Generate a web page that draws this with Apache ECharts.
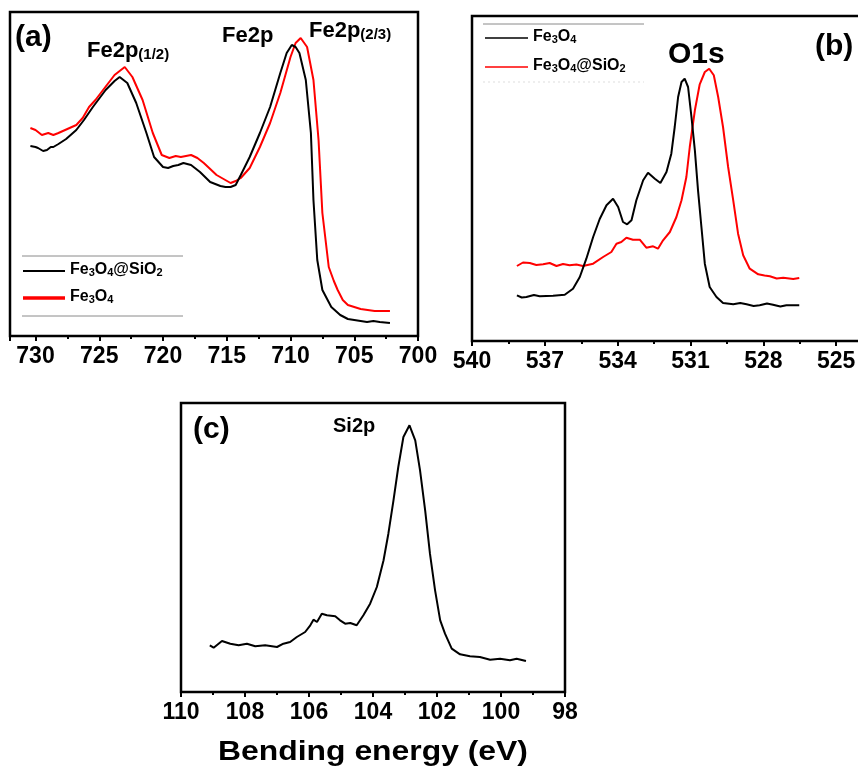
<!DOCTYPE html>
<html>
<head>
<meta charset="utf-8">
<script src="https://cdn.jsdelivr.net/npm/echarts@6/dist/echarts.min.js"></script>
<style>
html,body{margin:0;padding:0;background:#fff;}
#chart{width:858px;height:770px;}
</style>
</head>
<body>
<div id="chart"></div>
<script>
// ---------- DATA ----------
// Panel (a) Fe2p : Fe3O4@SiO2 (black)
const feSiO2_a_energy = [730.4, 730.0, 729.8, 729.4, 729.1, 728.8, 728.6, 728.2, 727.6, 726.8, 726.2, 725.5, 724.5, 723.8, 723.4, 722.8, 722.1, 721.3, 720.7, 720.0, 719.6, 719.2, 718.8, 718.4, 717.8, 717.1, 716.3, 715.5, 715.1, 714.7, 714.3, 713.9, 713.2, 712.4, 711.6, 710.8, 710.3, 709.9, 709.6, 709.3, 708.8, 708.4, 708.2, 707.9, 707.5, 706.8, 706.1, 705.5, 705.0, 704.5, 704.0, 703.5, 703.0, 702.2];
const feSiO2_a_intensity = [190, 189, 188, 185, 186, 189, 189, 192, 197, 206, 216, 229, 246, 255, 259, 253, 233, 203, 179, 169, 168, 170, 171, 173, 171, 164, 154, 150, 149, 149, 151, 161, 179, 203, 229, 263, 283, 291, 289, 283, 256, 203, 136, 76, 46, 29, 21, 17, 16, 15, 14, 15, 14, 13];
// Panel (a) Fe2p : Fe3O4 (red)
const fe_a_energy = [730.4, 730.0, 729.5, 729.0, 728.6, 728.2, 727.5, 726.8, 726.3, 725.8, 725.3, 724.7, 723.8, 723.3, 723.0, 722.7, 722.4, 721.6, 720.8, 720.1, 719.5, 719.0, 718.6, 718.2, 717.8, 717.3, 716.8, 715.8, 714.7, 714.3, 713.9, 713.2, 712.4, 711.6, 710.8, 710.0, 709.6, 709.2, 708.7, 708.2, 707.8, 707.5, 707.0, 706.6, 706.3, 705.9, 705.5, 704.5, 703.4, 702.2];
const fe_a_intensity = [208, 206, 201, 203, 201, 203, 207, 211, 218, 229, 236, 246, 261, 266, 269, 264, 259, 236, 203, 181, 178, 180, 179, 180, 181, 178, 173, 161, 153, 155, 158, 168, 189, 213, 243, 279, 293, 298, 289, 256, 196, 123, 69, 55, 46, 36, 31, 27, 25, 25];

// Panel (b) O1s : Fe3O4 (black)
const fe_b_energy = [538.15, 537.95, 537.76, 537.45, 537.21, 536.66, 536.18, 535.84, 535.56, 535.29, 535.01, 534.74, 534.46, 534.19, 533.98, 533.78, 533.61, 533.43, 533.23, 532.95, 532.75, 532.47, 532.24, 531.99, 531.79, 531.65, 531.51, 531.37, 531.24, 531.10, 530.96, 530.82, 530.69, 530.55, 530.41, 530.21, 529.93, 529.66, 529.24, 528.95, 528.69, 528.4, 528.15, 527.85, 527.60, 527.3, 527.05, 526.52];
const fe_b_intensity = [45.7, 43.5, 44, 46, 44.7, 45.3, 46.3, 52.3, 64, 82.3, 104, 122, 135.7, 142.3, 134, 119, 116.7, 120.7, 140.7, 160.7, 168.3, 162.3, 158, 169, 187.3, 214, 244, 259, 262.3, 254, 224, 190.7, 150.7, 114, 77.3, 54, 44, 38, 36.7, 38, 36.7, 35, 35.7, 37.5, 36.3, 34.5, 35.7, 35.7];
// Panel (b) O1s : Fe3O4@SiO2 (red)
const feSiO2_b_energy = [538.15, 537.9, 537.62, 537.35, 537.07, 536.8, 536.52, 536.25, 535.98, 535.7, 535.43, 535.01, 534.60, 534.26, 534.05, 533.85, 533.64, 533.37, 533.09, 532.82, 532.54, 532.34, 532.13, 531.85, 531.58, 531.37, 531.17, 531.03, 530.82, 530.62, 530.41, 530.23, 530.04, 529.86, 529.66, 529.45, 529.24, 529.04, 528.83, 528.56, 528.21, 527.95, 527.73, 527.45, 527.18, 526.77, 526.52];
const feSiO2_b_intensity = [75, 78.5, 78, 76, 76.7, 78, 75, 77, 75.7, 76.5, 75, 77.3, 84, 89, 97.3, 99, 103.3, 101.3, 101.3, 93.3, 94.7, 92.3, 100.7, 109, 124, 140.7, 164, 194, 230.7, 256.7, 269, 272.3, 265.7, 244, 214, 174, 140.7, 107.3, 85.7, 72.3, 66.7, 65.5, 64.7, 62.5, 63.3, 62, 63];

// Panel (c) Si2p
const si_c_energy = [109.1, 108.98, 108.72, 108.46, 108.20, 107.94, 107.68, 107.37, 107.0, 106.80, 106.59, 106.38, 106.12, 105.96, 105.86, 105.75, 105.60, 105.44, 105.18, 105.03, 104.87, 104.71, 104.51, 104.30, 104.09, 103.88, 103.67, 103.52, 103.36, 103.21, 103.05, 102.86, 102.68, 102.53, 102.37, 102.22, 102.06, 101.90, 101.75, 101.54, 101.28, 100.97, 100.66, 100.34, 100.03, 99.72, 99.51, 99.22];
const si_c_intensity = [46.7, 44.3, 51, 48.3, 46.7, 48.3, 45.7, 46.7, 45, 48.3, 50, 55, 60, 66.7, 72.3, 70, 78.3, 76.7, 75.7, 71.7, 68.3, 69, 66.7, 76.7, 88.3, 105, 131.7, 158.3, 191.7, 225, 255, 266.7, 251.7, 221.7, 181.7, 138.3, 101.7, 71.7, 58.3, 43.3, 37.7, 35.7, 35, 32.3, 33.3, 31.7, 33.3, 31];

// tick settings
const ticksA = {min: 700, max: 732, interval: 5};
const ticksB = {min: 522, max: 540, interval: 3};
const ticksC = {min: 98, max: 110, interval: 2};

const zip = (xs, ys) => xs.map((x, i) => [x, ys[i]]);

// ---------- STYLE ----------
const FONT = '"Liberation Sans", Arial, sans-serif';

function xAxisFor(gridIndex, t, hideFn) {
  return {
    type: 'value', gridIndex, inverse: true,
    min: t.min, max: t.max, interval: t.interval,
    axisLine: {show: false},
    splitLine: {show: false},
    axisTick: {show: true, inside: false, length: 5, lineStyle: {color: '#000', width: 2}},
    minorTick: {show: true, splitNumber: 2, length: 3, lineStyle: {color: '#000', width: 2}},
    axisLabel: {
      show: true, margin: 9, color: '#000', fontSize: 23, fontWeight: 'bold', fontFamily: FONT,
      formatter: v => (hideFn && hideFn(v)) ? '' : String(v)
    }
  };
}
function yAxisFor(gridIndex, max) {
  return {
    type: 'value', gridIndex, min: 0, max,
    axisLine: {show: false}, axisTick: {show: false}, axisLabel: {show: false}, splitLine: {show: false}
  };
}
const gridBase = {show: true, borderColor: '#000', borderWidth: 2.5, backgroundColor: 'transparent', containLabel: false, outerBoundsMode: 'none'};

const richSub = (size, subSize) => ({
  m: {fontSize: size, fontWeight: 'bold', fontFamily: FONT, fill: '#000', lineHeight: size + 4, verticalAlign: 'top'},
  s: {fontSize: subSize, fontWeight: 'bold', fontFamily: FONT, fill: '#000', lineHeight: size + 4, verticalAlign: 'top', padding: [Math.round(size * 0.3), 0, 0, 0]}
});

function txt(x, y, text, size, extra) {
  return Object.assign({
    type: 'text', x, y, silent: true,
    style: {text, font: 'bold ' + size + 'px ' + FONT, fill: '#000', textAlign: 'left', textVerticalAlign: 'middle'}
  }, extra || {});
}
function richTxt(x, y, text, size, subSize) {
  return {
    type: 'text', x, y, silent: true,
    style: {text, font: 'bold ' + size + 'px ' + FONT, fill: '#000', textAlign: 'left', textVerticalAlign: 'top', rich: richSub(size, subSize)}
  };
}
function hline(x1, x2, y, color, width, dash) {
  return {type: 'line', silent: true, shape: {x1, y1: y, x2, y2: y}, style: {stroke: color, lineWidth: width, lineDash: dash || null}};
}

const option = {
  backgroundColor: '#fff',
  animation: false,
  grid: [
    Object.assign({left: 10, top: 12, width: 408, height: 324}, gridBase),
    Object.assign({left: 472, top: 16, width: 437, height: 325}, gridBase),
    Object.assign({left: 181, top: 403, width: 384, height: 289}, gridBase)
  ],
  xAxis: [
    xAxisFor(0, ticksA, v => v % 5 !== 0),
    xAxisFor(1, ticksB, v => v % 3 !== 0 || v < 525),
    xAxisFor(2, ticksC, null)
  ],
  yAxis: [yAxisFor(0, 324), yAxisFor(1, 325), yAxisFor(2, 289)],
  series: [
    {name: 'Fe3O4@SiO2 (a)', type: 'line', xAxisIndex: 0, yAxisIndex: 0, data: zip(feSiO2_a_energy, feSiO2_a_intensity), showSymbol: false, lineStyle: {color: '#000', width: 2}, z: 3},
    {name: 'Fe3O4 (a)', type: 'line', xAxisIndex: 0, yAxisIndex: 0, data: zip(fe_a_energy, fe_a_intensity), showSymbol: false, lineStyle: {color: '#ff0000', width: 2}, z: 2},
    {name: 'Fe3O4 (b)', type: 'line', xAxisIndex: 1, yAxisIndex: 1, data: zip(fe_b_energy, fe_b_intensity), showSymbol: false, lineStyle: {color: '#000', width: 2}, z: 3},
    {name: 'Fe3O4@SiO2 (b)', type: 'line', xAxisIndex: 1, yAxisIndex: 1, data: zip(feSiO2_b_energy, feSiO2_b_intensity), showSymbol: false, lineStyle: {color: '#ff0000', width: 2}, z: 2},
    {name: 'Si2p (c)', type: 'line', xAxisIndex: 2, yAxisIndex: 2, data: zip(si_c_energy, si_c_intensity), showSymbol: false, lineStyle: {color: '#000', width: 2}}
  ],
  graphic: [
    // panel (a) annotations
    txt(15, 38, '(a)', 30),
    richTxt(87, 40, '{m|Fe2p}{s|(1/2)}', 22, 15),
    txt(222, 36, 'Fe2p', 22),
    richTxt(309, 20, '{m|Fe2p}{s|(2/3)}', 22, 15),
    // panel (a) legend
    hline(22, 183, 256, '#8a8a8a', 1),
    hline(23, 65, 271, '#000', 2),
    richTxt(70, 262, '{m|Fe}{s|3}{m|O}{s|4}{m|@SiO}{s|2}', 16, 11),
    hline(23, 65, 298, '#ff0000', 3.5),
    richTxt(70, 289, '{m|Fe}{s|3}{m|O}{s|4}', 16, 11),
    hline(22, 183, 316, '#8a8a8a', 1),
    // panel (b) annotations
    txt(815, 47, '(b)', 30),
    txt(668, 55, 'O1s', 30),
    hline(483, 644, 24, '#8a8a8a', 1),
    hline(485, 528, 38, '#000', 1.5),
    richTxt(533, 29, '{m|Fe}{s|3}{m|O}{s|4}', 16, 11),
    hline(485, 528, 67, '#ff0000', 1.5),
    richTxt(533, 58, '{m|Fe}{s|3}{m|O}{s|4}{m|@SiO}{s|2}', 16, 11),
    hline(483, 644, 82, '#dddddd', 1, [2, 3]),
    // panel (c) annotations
    txt(193, 430, '(c)', 30),
    txt(333, 426, 'Si2p', 20),
    // common x-axis title
    {type: 'text', x: 373, y: 753, scaleX: 1.18, silent: true,
     style: {text: 'Bending energy (eV)', font: 'bold 27px ' + FONT, fill: '#000', textAlign: 'center', textVerticalAlign: 'middle'}}
  ]
};

const chart = echarts.init(document.getElementById('chart'), null, {renderer: 'canvas'});
chart.setOption(option);
</script>
</body>
</html>
